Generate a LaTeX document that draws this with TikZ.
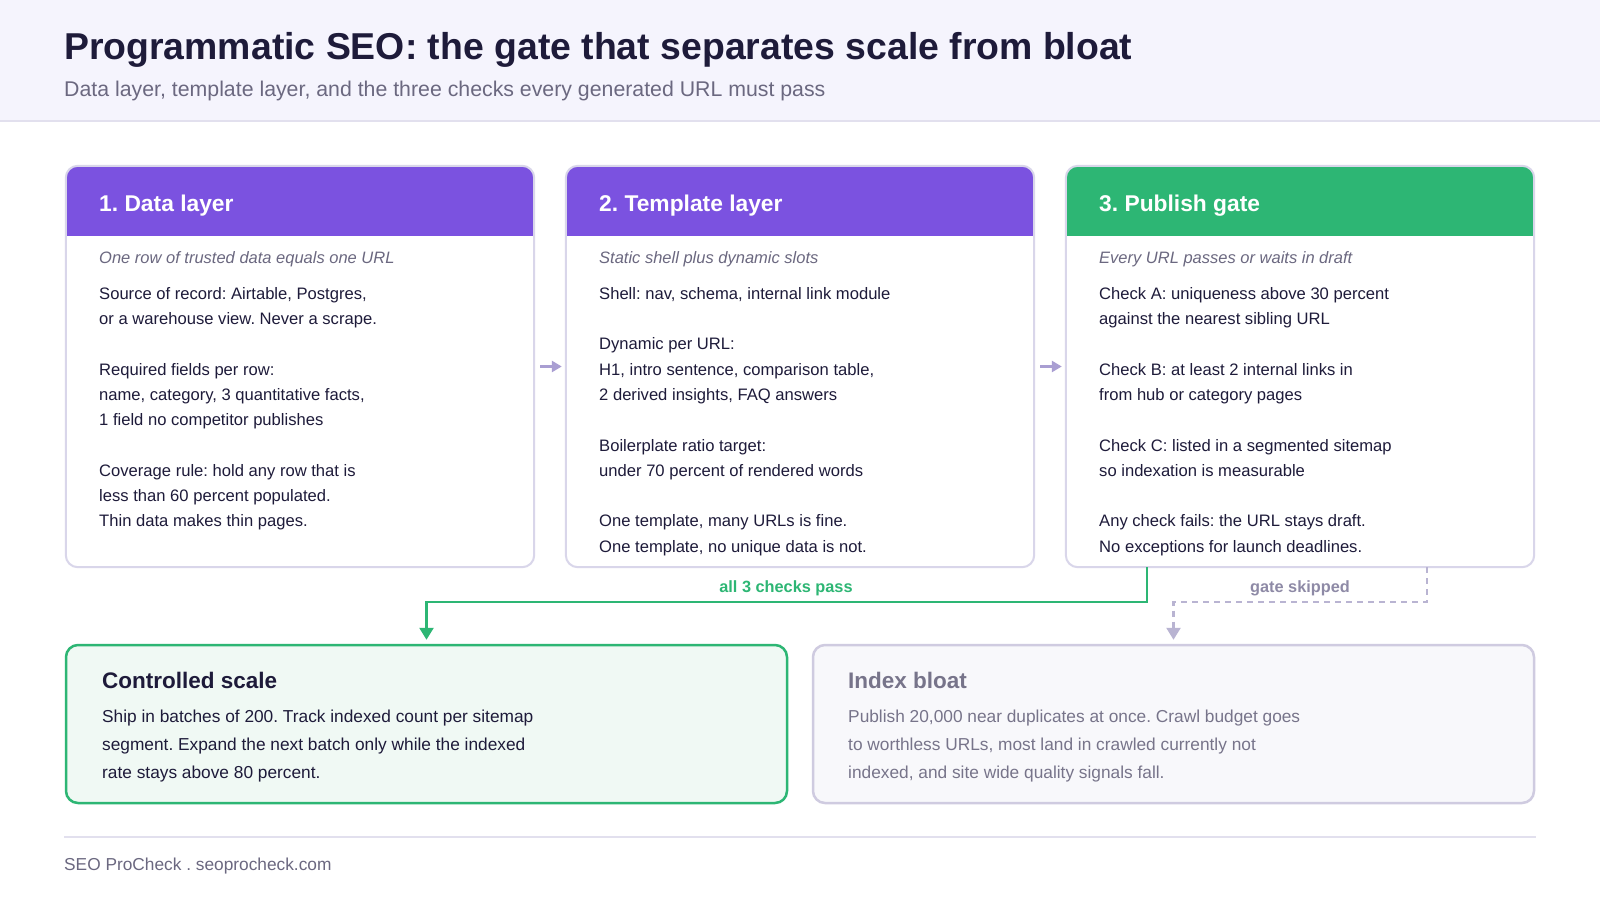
\documentclass[tikz,border=0pt]{standalone}
\usepackage{fontspec}
\setmainfont{Liberation Sans}
\frenchspacing
\usetikzlibrary{arrows.meta, positioning}
\definecolor{ink}{HTML}{1E1B3A}
\definecolor{muted}{HTML}{6B6880}
\definecolor{band}{HTML}{F5F4FD}
\definecolor{rule}{HTML}{E2E0EE}
\definecolor{violet}{HTML}{7B52E0}
\definecolor{gate}{HTML}{2DB674}
\definecolor{edge}{HTML}{D9D6EA}
\definecolor{lilac}{HTML}{A99ED2}
\definecolor{okfill}{HTML}{F0F9F4}
\definecolor{badfill}{HTML}{F8F8FB}
\definecolor{badline}{HTML}{CFCBE0}
\definecolor{badtext}{HTML}{77748A}
\definecolor{skipline}{HTML}{B9B4D2}
\definecolor{skiptext}{HTML}{8E8AA6}
\tikzset{
  card/.style={fill=white, rounded corners=12pt, minimum width=468pt, minimum height=401pt, inner sep=0pt},
  cardedge/.style={draw=edge, line width=2pt, rounded corners=12pt},
  hdrtxt/.style={anchor=base west, inner sep=0pt, text=white, font=\fontsize{22.8}{27}\selectfont\bfseries},
  lede/.style={anchor=base west, inner sep=0pt, text=muted, font=\fontsize{16.5}{20}\selectfont\itshape},
  body/.style={anchor=north west, inner sep=0pt, align=left, text=ink, font=\fontsize{16.6}{25.3}\selectfont},
  outbox/.style={rounded corners=12pt, line width=2.5pt, minimum width=721pt, minimum height=158pt, inner sep=0pt},
  outttl/.style={anchor=base west, inner sep=0pt, font=\fontsize{22.5}{27}\selectfont\bfseries},
  outtxt/.style={anchor=north west, inner sep=0pt, align=left, font=\fontsize{17.3}{28}\selectfont},
  side/.style={-{Triangle[length=10pt, width=11pt]}, lilac, line width=2.5pt, shorten <=6pt, shorten >=4pt},
  pass/.style={-{Triangle[length=12pt, width=14pt]}, gate, line width=2.5pt, shorten >=4pt},
  skip/.style={-{Triangle[length=12pt, width=14pt]}, skipline, line width=2.5pt, dash pattern=on 6pt off 5pt, shorten >=4pt},
  tag/.style={anchor=base, inner sep=0pt, font=\fontsize{16.3}{19}\selectfont\bfseries},
}
\begin{document}
\begin{tikzpicture}[x=1pt, y=-1pt]
  \useasboundingbox (0,0) rectangle (1600,900);
  \fill[white] (0,0) rectangle (1600,900);
  % header band
  \fill[band] (0,0) rectangle (1600,120);
  \draw[rule, line width=2pt] (0,121) -- (1600,121);
  \node[anchor=base west, inner sep=0pt, text=ink, font=\fontsize{37.4}{44}\selectfont\bfseries] (title) at (64,59) {Programmatic SEO: the gate that separates scale from bloat};
  \node[anchor=base west, inner sep=0pt, text=muted, font=\fontsize{21.3}{25}\selectfont] (subtitle) at (64,96) {Data layer, template layer, and the three checks every generated URL must pass};
  % three layer cards
  \node[card] (c1) at (300,366.5) {};
  \node[card] (c2) at (800,366.5) {};
  \node[card] (c3) at (1300,366.5) {};
  \foreach \c/\col in {c1/violet,c2/violet,c3/gate} {
    \fill[\col, rounded corners=12pt] (\c.north west) rectangle ([yshift=-70pt]\c.north east);
    \fill[\col] ([yshift=-30pt]\c.north west) rectangle ([yshift=-70pt]\c.north east);
    \draw[cardedge] (\c.north west) rectangle (\c.south east);
  }
  \node[hdrtxt] (h1) at (99,211) {1. Data layer};
  \node[hdrtxt] (h2) at (599,211) {2. Template layer};
  \node[hdrtxt] (h3) at (1099,211) {3. Publish gate};
  \node[lede] (l1) at (99,263) {One row of trusted data equals one URL};
  \node[lede] (l2) at (599,263) {Static shell plus dynamic slots};
  \node[lede] (l3) at (1099,263) {Every URL passes or waits in draft};
  \node[body] (b1) at (99,287) {Source of record: Airtable, Postgres,\\
    or a warehouse view. Never a scrape.\\[25.3pt]
    Required fields per row:\\
    name, category, 3 quantitative facts,\\
    1 field no competitor publishes\\[25.3pt]
    Coverage rule: hold any row that is\\
    less than 60 percent populated.\\
    Thin data makes thin pages.};
  \node[body] (b2) at (599,287) {Shell: nav, schema, internal link module\\[25.3pt]
    Dynamic per URL:\\
    H1, intro sentence, comparison table,\\
    2 derived insights, FAQ answers\\[25.3pt]
    Boilerplate ratio target:\\
    under 70 percent of rendered words\\[25.3pt]
    One template, many URLs is fine.\\
    One template, no unique data is not.};
  \node[body] (b3) at (1099,287) {Check A: uniqueness above 30 percent\\
    against the nearest sibling URL\\[25.3pt]
    Check B: at least 2 internal links in\\
    from hub or category pages\\[25.3pt]
    Check C: listed in a segmented sitemap\\
    so indexation is measurable\\[25.3pt]
    Any check fails: the URL stays draft.\\
    No exceptions for launch deadlines.};
  \foreach \a/\b in {c1/c2,c2/c3} \draw[side] (\a) -- (\b);
  % outcomes
  \node[outbox, draw=gate, fill=okfill] (ok) at (426.5,724) {};
  \node[outbox, draw=badline, fill=badfill] (bad) at (1173.5,724) {};
  \node[outttl, text=ink] (okt) at (102,688) {Controlled scale};
  \node[outtxt, text=ink] (okb) at (102,709.5) {Ship in batches of 200. Track indexed count per sitemap\\
    segment. Expand the next batch only while the indexed\\
    rate stays above 80 percent.};
  \node[outttl, text=badtext] (badt) at (848,688) {Index bloat};
  \node[outtxt, text=badtext] (badb) at (848,709.5) {Publish 20,000 near duplicates at once. Crawl budget goes\\
    to worthless URLs, most land in crawled currently not\\
    indexed, and site wide quality signals fall.};
  \draw[pass] ([xshift=-153pt]c3.south) |- ([yshift=42pt]ok.north) -- (ok.north);
  \draw[skip] ([xshift=127pt]c3.south) |- ([yshift=42pt]bad.north) -- (bad.north);
  \node[tag, text=gate] (passlbl) at (786,592) {all 3 checks pass};
  \node[tag, text=skiptext] (skiplbl) at (1300,592) {gate skipped};
  % footer
  \draw[rule, line width=2pt] (64,837) -- (1536,837);
  \node[anchor=base west, inner sep=0pt, text=muted, font=\fontsize{17.3}{20}\selectfont] (foot) at (64,870) {SEO ProCheck . seoprocheck.com};
\end{tikzpicture}
\end{document}
